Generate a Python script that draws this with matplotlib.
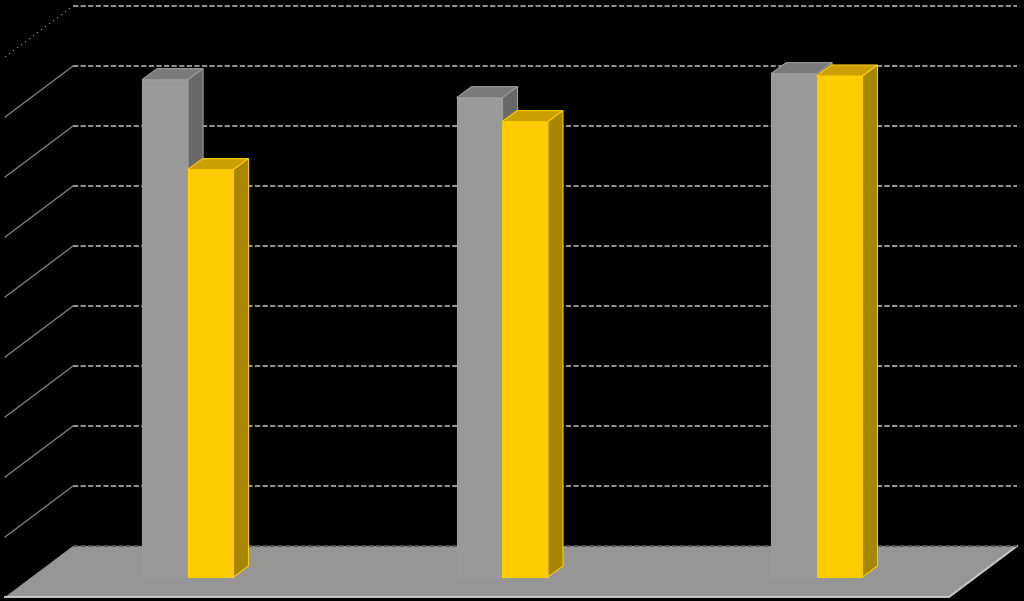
import matplotlib
matplotlib.use("Agg")
import matplotlib.pyplot as plt

# values, the axis labels are black on black so units are just grid steps
categories = [0, 1, 2]
series_gray = [8.29, 7.99, 8.39]
series_yellow = [6.79, 7.59, 8.35]
grid_levels = [0, 1, 2, 3, 4, 5, 6, 7, 8, 9]

BAR_W = 0.146
DEPTH_X = 15 / 314.5
DEPTH_Y = 11 / 60
WALL_X0 = -0.3657
WALL_X1 = 2.636
WALL_BASE = 0.517
SLANT_X = 68 / 314.5
SLANT_Y = 51 / 60


def draw_bars(ax, xs, values, front, top, side, edge):
    ax.bar(xs, values, width=BAR_W, color=front, edgecolor=edge, linewidth=0.8, zorder=3)
    for x, v in zip(xs, values):
        left, right = x - BAR_W / 2, x + BAR_W / 2
        ax.fill([left, right, right + DEPTH_X, left + DEPTH_X],
                [v, v, v + DEPTH_Y, v + DEPTH_Y],
                facecolor=top, edgecolor=edge, linewidth=0.8, zorder=3)
        ax.fill([right, right + DEPTH_X, right + DEPTH_X, right],
                [0, DEPTH_Y, v + DEPTH_Y, v],
                facecolor=side, edgecolor=edge, linewidth=0.8, zorder=3)


fig = plt.figure(figsize=(10.24, 6.01), dpi=100, facecolor="black")
ax = fig.add_axes([0, 0, 1, 1], facecolor="black")
ax.set_xlim(-0.598, 2.658)
ax.set_ylim(-0.4, 9.617)
ax.axis("off")

# floor
floor_y0 = WALL_BASE - SLANT_Y
ax.fill([WALL_X0, WALL_X1, WALL_X1 - SLANT_X, WALL_X0 - SLANT_X],
        [WALL_BASE, WALL_BASE, floor_y0, floor_y0], color="#969696", lw=0, zorder=1)
ax.plot([WALL_X0 - SLANT_X, WALL_X1 - SLANT_X, WALL_X1],
        [floor_y0, floor_y0, WALL_BASE], color="#c8c8c8", lw=1.4, zorder=1)

# back wall grid and left wall lines
for lev in grid_levels:
    y = WALL_BASE + lev
    ax.plot([WALL_X0, WALL_X1], [y, y], color="#555555" if lev == 0 else "#a0a0a0",
            lw=1.3, dashes=(2.9, 1.3), zorder=2)
    if lev > 0:
        ax.plot([WALL_X0 - SLANT_X, WALL_X0], [y - SLANT_Y, y], color="#858585",
                lw=0.9, ls=(0, (1, 3)) if lev == 9 else "-", zorder=2)

gray_x = [c - BAR_W / 2 for c in categories]
yellow_x = [c + BAR_W / 2 - 0.5 / 314.5 for c in categories]
draw_bars(ax, gray_x, series_gray, "#999999", "#7a7a7a", "#686868", "#9c9c9c")
draw_bars(ax, yellow_x, series_yellow, "#ffcc00", "#c9a000", "#a68500", "#ffcc00")

fig.savefig("out.png", dpi=100, facecolor="black")
